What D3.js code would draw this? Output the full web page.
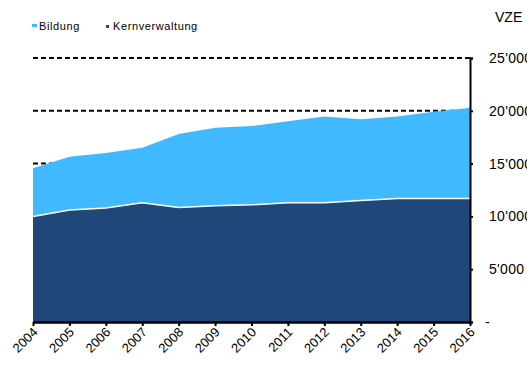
<!DOCTYPE html>
<html><head><meta charset="utf-8">
<script src="https://cdn.jsdelivr.net/npm/d3@7"></script>
<style>body{margin:0;background:#fff;overflow:hidden}svg{display:block;font-family:"Liberation Sans",Arial,sans-serif}</style>
</head><body><svg id="c" width="527" height="369"></svg>
<script>
const years = [2004,2005,2006,2007,2008,2009,2010,2011,2012,2013,2014,2015,2016];
const kernverwaltung = [10000,10600,10800,11300,10850,11000,11100,11300,11300,11500,11700,11700,11700];
const total = [14550,15650,16000,16500,17800,18400,18550,19000,19450,19200,19450,19900,20300];
const bildung = total.map((t,i)=>t-kernverwaltung[i]);
const yTicks = [0,5000,10000,15000,20000,25000];
const seriesNames = ["Bildung","Kernverwaltung"];
const colors = {Bildung:"#41B9FF", Kernverwaltung:"#1F477A"};

const svg = d3.select("#c");
const x = d3.scaleLinear().domain([2004,2016]).range([33,470]);
const y = d3.scaleLinear().domain([0,25000]).range([322,58]);

const data = years.map((yr,i)=>({year:yr, Kernverwaltung:kernverwaltung[i], Bildung:bildung[i]}));
const stack = d3.stack().keys(["Kernverwaltung","Bildung"])(data);

// gridlines
svg.append("g").selectAll("line").data(yTicks.filter(d=>d>0)).join("line")
  .attr("x1",33).attr("x2",470).attr("y1",d=>y(d)).attr("y2",d=>y(d))
  .attr("stroke","#000").attr("stroke-width",2).attr("stroke-dasharray","5,3");

const area = d3.area().x(d=>x(d.data.year)).y0(d=>y(d[0])).y1(d=>y(d[1]));
svg.append("path").datum(stack[1]).attr("d",area).attr("fill",colors.Bildung);
svg.append("path").datum(stack[0]).attr("d",area).attr("fill",colors.Kernverwaltung);
svg.append("path").datum(stack[0]).attr("d",d3.line().x(d=>x(d.data.year)).y(d=>y(d[1])))
  .attr("fill","none").attr("stroke","#fff").attr("stroke-width",1.5);

// right axis
const fmt = d=> d===0 ? "-" : d3.format(",")(d).replace(/,/g,"'");
const ra = svg.append("g").attr("transform","translate(470,0)")
  .call(d3.axisRight(y).tickValues(yTicks).tickSize(3).tickFormat(fmt));
ra.select(".domain").attr("stroke","#000").attr("stroke-width",2);
ra.selectAll(".tick line").attr("stroke","#000").attr("stroke-width",2);
ra.selectAll(".tick text").attr("x",d=>d===0?15:19).attr("font-size",14).attr("fill","#000")
  .attr("letter-spacing",0.3)
  .attr("font-family","'Liberation Sans',Arial,sans-serif");

// bottom axis
const ba = svg.append("g").attr("transform","translate(0,322)")
  .call(d3.axisBottom(x).tickValues(years).tickSize(4).tickFormat(d3.format("d")).tickSizeOuter(0));
ba.select(".domain").attr("stroke","#000").attr("stroke-width",2.5);
ba.selectAll(".tick line").attr("stroke","#000").attr("stroke-width",2);
ba.selectAll(".tick text").attr("font-size",13).attr("fill","#000")
  .attr("font-family","'Liberation Sans',Arial,sans-serif")
  .attr("text-anchor","end").attr("dy",0).attr("y",0)
  .attr("transform","translate(5,11) rotate(-45)");

// VZE
svg.append("text").attr("x",495).attr("y",22).attr("font-size",14).text("VZE");

// legend
const lg = svg.append("g");
const lx = [32,106];
seriesNames.forEach((n,i)=>{
  lg.append("rect").attr("x",lx[i]).attr("y",n==="Bildung"?24:25).attr("width",n==="Bildung"?5:3).attr("height",3).attr("fill",colors[n]);
  lg.append("text").attr("x",lx[i]+7).attr("y",30).attr("font-size",11).attr("letter-spacing",0.6).attr("fill","#000").text(n);
});
</script></body></html>
